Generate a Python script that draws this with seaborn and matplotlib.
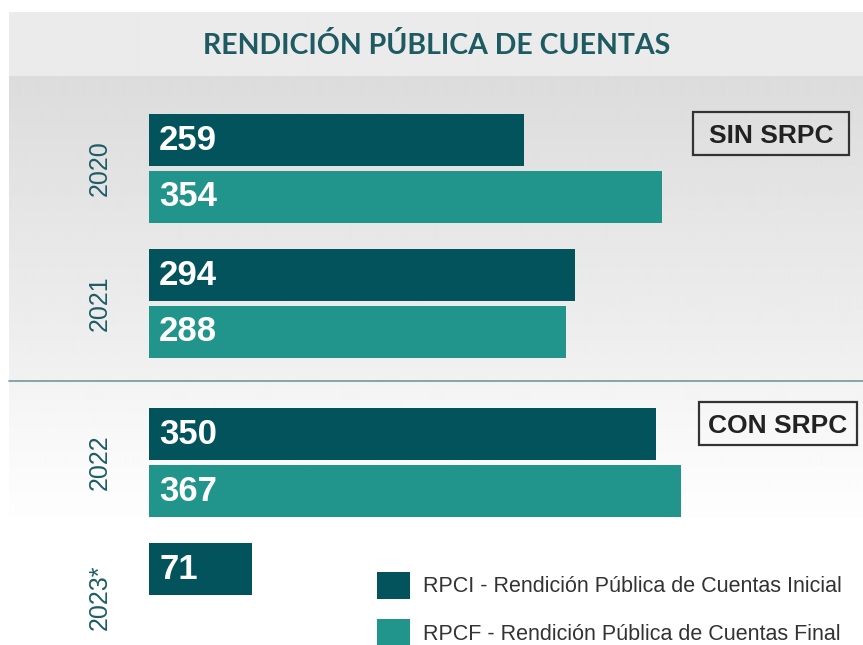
"""
Rendición Pública de Cuentas - horizontal grouped bars (seaborn)
"""
import numpy as np
import pandas as pd
import matplotlib
matplotlib.use('Agg')
import matplotlib.pyplot as plt
from matplotlib.lines import Line2D
from matplotlib.patches import Rectangle
import seaborn as sns

# ============================================================================
# DATA
# ============================================================================
years = ['2020', '2021', '2022', '2023*']
rpci = [259, 294, 350, 71]
rpcf = [354, 288, 367, None]
series = ['RPCI - Rendición Pública de Cuentas Inicial',
          'RPCF - Rendición Pública de Cuentas Final']
title = 'RENDICIÓN PÚBLICA DE CUENTAS'
box_labels = ['SIN SRPC', 'CON SRPC']

# ============================================================================
# STYLE
# ============================================================================
sns.set_theme(style='white')
plt.rcParams['font.family'] = ['Liberation Sans', 'DejaVu Sans']

dark = '#02535C'
light = '#21948B'
teal_text = '#1D5D66'

W, H = 863, 645
fig = plt.figure(figsize=(W / 100, H / 100), dpi=100)
fig.patch.set_facecolor('white')

# background panel with gradient
bg = fig.add_axes([9 / W, 0, 1 - 9 / W, 1 - 12 / H], zorder=0)
bg.set_axis_off()
n = 633
col = np.ones(n)
top_band = 64
div = 381 - 12
for i in range(n):
    if i < top_band:
        col[i] = 0.918
    elif i < div:
        t = (i - top_band) / (div - top_band)
        col[i] = 0.862 + t * (0.945 - 0.862)
    else:
        t = min(1.0, (i - div) / 150)
        col[i] = 0.955 + t * (1.0 - 0.955)
img = np.repeat(col[:, None], 10, axis=1)
bg.imshow(img, cmap='gray', vmin=0, vmax=1, aspect='auto', interpolation='bilinear')

# ============================================================================
# BARS
# ============================================================================
# uneven group spacing: a larger gap around the divider line
group_pos = [0, 1, 2.178, 3.178]
rows = []
for i, y in enumerate(years):
    rows.append({'pos': group_pos[i], 'serie': series[0], 'valor': rpci[i]})
    if rpcf[i] is not None:
        rows.append({'pos': group_pos[i], 'serie': series[1], 'valor': rpcf[i]})
df = pd.DataFrame(rows)

x0, x1 = 149, 863
y_top, y_bot = 76, 645
ax = fig.add_axes([x0 / W, 0, (x1 - x0) / W, 1 - y_top / H], zorder=1)
ax.patch.set_alpha(0)

sns.barplot(data=df, x='valor', y='pos', hue='serie', hue_order=series,
            orient='h', native_scale=True, palette=[dark, light],
            width=0.844, gap=0.088, saturation=1, errorbar=None,
            linewidth=0, legend=True, ax=ax)

px_per_unit = 1.449
ax.set_xlim(0, (x1 - x0) / px_per_unit)
ax.set_ylim((y_bot - 168.5) / 135, (y_top - 168.5) / 135)

for c in ax.containers:
    for bar in c:
        w = bar.get_width()
        if np.isnan(w) or w == 0:
            continue
        ax.text(7, bar.get_y() + bar.get_height() / 2, f'{int(w)}',
                color='white', fontsize=25, fontweight='bold',
                va='center', ha='left')

ax.set_yticks(group_pos)
ax.set_yticklabels(years, rotation=90, va='center', fontsize=18, color=teal_text)
ax.tick_params(axis='y', length=0, pad=27)
ax.set_xticks([])
ax.set_xlabel('')
ax.set_ylabel('')
for s in ax.spines.values():
    s.set_visible(False)

# legend
handles, labels = ax.get_legend_handles_labels()
ax.legend(handles, labels, loc='upper left', frameon=False,
          bbox_to_anchor=(377 / W, 1 - 572 / H), bbox_transform=fig.transFigure,
          fontsize=15.5, handlelength=1.53, handleheight=1.53,
          handletextpad=0.62, labelspacing=0.95, borderpad=0, borderaxespad=0,
          labelcolor='#333333')

# ============================================================================
# TITLE, DIVIDER, BOXES
# ============================================================================
fig.text(437 / W, 1 - 46 / H, title, ha='center', va='center',
         fontsize=20.5, fontweight='bold', color='#1D5A61', family='Lato')

fig.add_artist(Line2D([9 / W, 1], [1 - 381 / H, 1 - 381 / H],
                      color='#6E9A9E', linewidth=1.2))

# annotation boxes (left, top, right, bottom in pixels)
boxes = [(693, 112, 849, 155), (699, 402, 857, 445)]
for (l, t, r, b), lab in zip(boxes, box_labels):
    fig.add_artist(Rectangle((l / W, 1 - b / H), (r - l) / W, (b - t) / H,
                             transform=fig.transFigure, facecolor='none',
                             edgecolor='#333333', linewidth=1.6))
    fig.text((l + r) / 2 / W, 1 - (t + b) / 2 / H, lab, ha='center',
             va='center_baseline', fontsize=19, fontweight='bold', color='#222222')

plt.savefig('out.png', dpi=100)
plt.close()
print('saved out.png')
